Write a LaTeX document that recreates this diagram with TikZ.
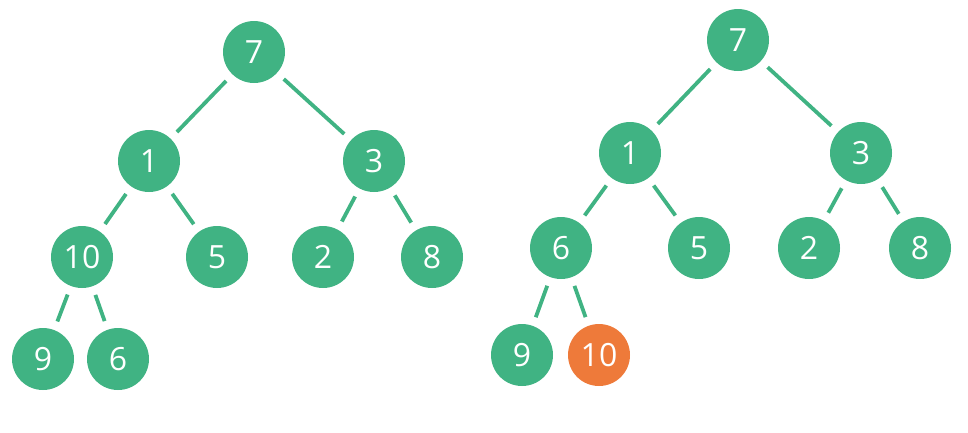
\documentclass[tikz,border=0pt]{standalone}
\usepackage{fontspec}
\setsansfont{Open Sans}
\usepackage{xcolor}

\definecolor{heapgreen}{HTML}{40B383}
\definecolor{heaporange}{HTML}{EE7A3A}

\begin{document}
\begin{tikzpicture}[x=1pt,y=-1pt,
	key/.style={circle,fill=heapgreen,minimum size=62pt,inner sep=0pt,text=white,font=\sffamily\fontsize{32}{36}\selectfont},
	moved/.style={key,fill=heaporange},
	link/.style={draw=heapgreen,line width=3.8pt,shorten >=9pt,shorten <=9pt}]
	\useasboundingbox (0,0) rectangle (968,432);
	% before
	\node[key] (a7)  at (254,52)  {7};
	\node[key] (a1)  at (149,161) {1};
	\node[key] (a3)  at (374,161) {3};
	\node[key] (a10) at (82,257)  {10};
	\node[key] (a5)  at (217,257) {5};
	\node[key] (a2)  at (323,257) {2};
	\node[key] (a8)  at (432,257) {8};
	\node[key] (a9)  at (43,359)  {9};
	\node[key] (a6)  at (118,359) {6};
	\draw[link] (a7) -- (a1);
	\draw[link] (a7) -- (a3);
	\draw[link] (a1) -- (a10);
	\draw[link] (a1) -- (a5);
	\draw[link] (a3) -- (a2);
	\draw[link] (a3) -- (a8);
	\draw[link] (a10) -- (a9);
	\draw[link] (a10) -- (a6);
	% after
	\node[key] (b7)  at (738,40)  {7};
	\node[key] (b1)  at (630,153) {1};
	\node[key] (b3)  at (861,153) {3};
	\node[key] (b6)  at (561,248) {6};
	\node[key] (b5)  at (699,248) {5};
	\node[key] (b2)  at (809,248) {2};
	\node[key] (b8)  at (920,248) {8};
	\node[key] (b9)  at (522,355) {9};
	\node[moved] (b10) at (599,355) {10};
	\draw[link] (b7) -- (b1);
	\draw[link] (b7) -- (b3);
	\draw[link] (b1) -- (b6);
	\draw[link] (b1) -- (b5);
	\draw[link] (b3) -- (b2);
	\draw[link] (b3) -- (b8);
	\draw[link] (b6) -- (b9);
	\draw[link] (b6) -- (b10);
\end{tikzpicture}
\end{document}
